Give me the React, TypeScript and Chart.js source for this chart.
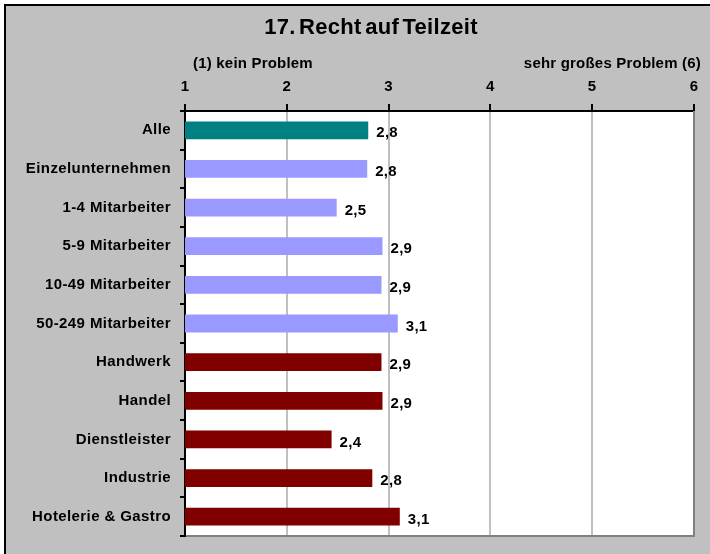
import React, { useEffect, useRef } from "react";
import { Chart, registerables } from "chart.js";

Chart.register(...registerables);

const categories = [
  "Alle",
  "Einzelunternehmen",
  "1-4 Mitarbeiter",
  "5-9 Mitarbeiter",
  "10-49 Mitarbeiter",
  "50-249 Mitarbeiter",
  "Handwerk",
  "Handel",
  "Dienstleister",
  "Industrie",
  "Hotelerie & Gastro",
];
const values = [2.8, 2.79, 2.49, 2.94, 2.93, 3.09, 2.93, 2.94, 2.44, 2.84, 3.11];
const groups = ["total", "size", "size", "size", "size", "size", "sector", "sector", "sector", "sector", "sector"];
const groupColors: Record<string, string> = { total: "#008080", size: "#9999FF", sector: "#800000" };
const scaleMin = 1;
const scaleMax = 6;
const titleText = "17. Recht auf Teilzeit";
const leftNote = "(1) kein Problem";
const rightNote = "sehr großes Problem (6)";

const FONT = '"Liberation Sans", Arial, Helvetica, sans-serif';

const framePlugin = {
  id: "frame",
  beforeDraw(chart: any) {
    const { ctx, chartArea: a, width, height } = chart;
    ctx.save();
    ctx.fillStyle = "#ffffff";
    ctx.fillRect(0, 0, width, height);
    ctx.fillStyle = "#C0C0C0";
    ctx.fillRect(4, 4, width - 4, height - 4);
    ctx.fillStyle = "#000000";
    ctx.fillRect(4, 4, width - 4, 2);
    ctx.fillRect(4, 4, 2, height - 4);
    ctx.fillStyle = "#ffffff";
    ctx.fillRect(a.left, a.top, a.right - a.left, a.bottom - a.top);

    ctx.fillStyle = "#000000";
    ctx.font = `bold 22px ${FONT}`;
    (ctx as any).letterSpacing = "0.3px";
    (ctx as any).wordSpacing = "-3px";
    ctx.textAlign = "center";
    ctx.textBaseline = "alphabetic";
    ctx.fillText(titleText, 371, 34);

    ctx.font = `bold 15px ${FONT}`;
    (ctx as any).letterSpacing = "0.2px";
    (ctx as any).wordSpacing = "0px";
    ctx.textAlign = "left";
    ctx.fillText(leftNote, 193, 68);
    ctx.textAlign = "right";
    ctx.fillText(rightNote, 701, 68);
    ctx.restore();
    (ctx as any).letterSpacing = "0.4px";
  },
  afterDatasetsDraw(chart: any) {
    const { ctx, chartArea: a } = chart;
    ctx.save();
    ctx.strokeStyle = "#808080";
    ctx.lineWidth = 2;
    ctx.beginPath();
    ctx.moveTo(a.right, a.top);
    ctx.lineTo(a.right, a.bottom);
    ctx.lineTo(a.left + 1, a.bottom);
    ctx.stroke();

    const meta = chart.getDatasetMeta(0);
    ctx.fillStyle = "#000000";
    ctx.font = `bold 15px ${FONT}`;
    (ctx as any).letterSpacing = "0.3px";
    ctx.textAlign = "left";
    ctx.textBaseline = "middle";
    meta.data.forEach((bar: any, i: number) => {
      const txt = values[i].toFixed(1).replace(".", ",");
      ctx.fillText(txt, bar.x + 8, bar.y + 3);
    });
    ctx.restore();
  },
};

export default function App() {
  const ref = useRef<HTMLCanvasElement | null>(null);
  useEffect(() => {
    if (!ref.current) return;
    const chart = new Chart(ref.current, {
      type: "bar",
      data: {
        labels: categories,
        datasets: [
          {
            data: values,
            backgroundColor: groups.map((g) => groupColors[g]),
            borderWidth: 0,
            categoryPercentage: 1,
            barPercentage: 0.46,
          },
        ],
      },
      options: {
        indexAxis: "y",
        animation: false,
        responsive: false,
        maintainAspectRatio: false,
        devicePixelRatio: 1,
        layout: { padding: { left: 0, top: 0, right: 16, bottom: 13 } },
        plugins: {
          legend: { display: false },
          tooltip: { enabled: false },
          title: { display: false },
        },
        scales: {
          x: {
            type: "linear",
            position: "top",
            min: scaleMin,
            max: scaleMax,
            ticks: {
              stepSize: 1,
              color: "#000",
              font: { family: FONT, size: 15, weight: "bold" },
              padding: 8,
            },
            grid: {
              color: "#C0C0C0",
              lineWidth: 2,
              tickColor: "#000",
              tickWidth: 2,
              tickLength: 7,
            },
            border: { color: "#000", width: 2 },
            afterFit: (s: any) => {
              s.height = 111;
            },
          },
          y: {
            type: "category",
            ticks: {
              color: "#000",
              font: { family: FONT, size: 15, weight: "bold" },
              padding: 9,
            },
            grid: {
              drawOnChartArea: false,
              offset: true,
              color: "#000",
              lineWidth: 2,
              tickLength: 5,
            },
            border: { color: "#000", width: 2 },
            afterFit: (s: any) => {
              s.width = 185;
            },
          },
        },
      },
      plugins: [framePlugin],
    } as any);
    return () => chart.destroy();
  }, []);
  return (
    <div style={{ position: "absolute", left: 0, top: 0, width: 710, height: 554 }}>
      <canvas ref={ref} width={710} height={554} style={{ display: "block", width: 710, height: 554 }} />
    </div>
  );
}
